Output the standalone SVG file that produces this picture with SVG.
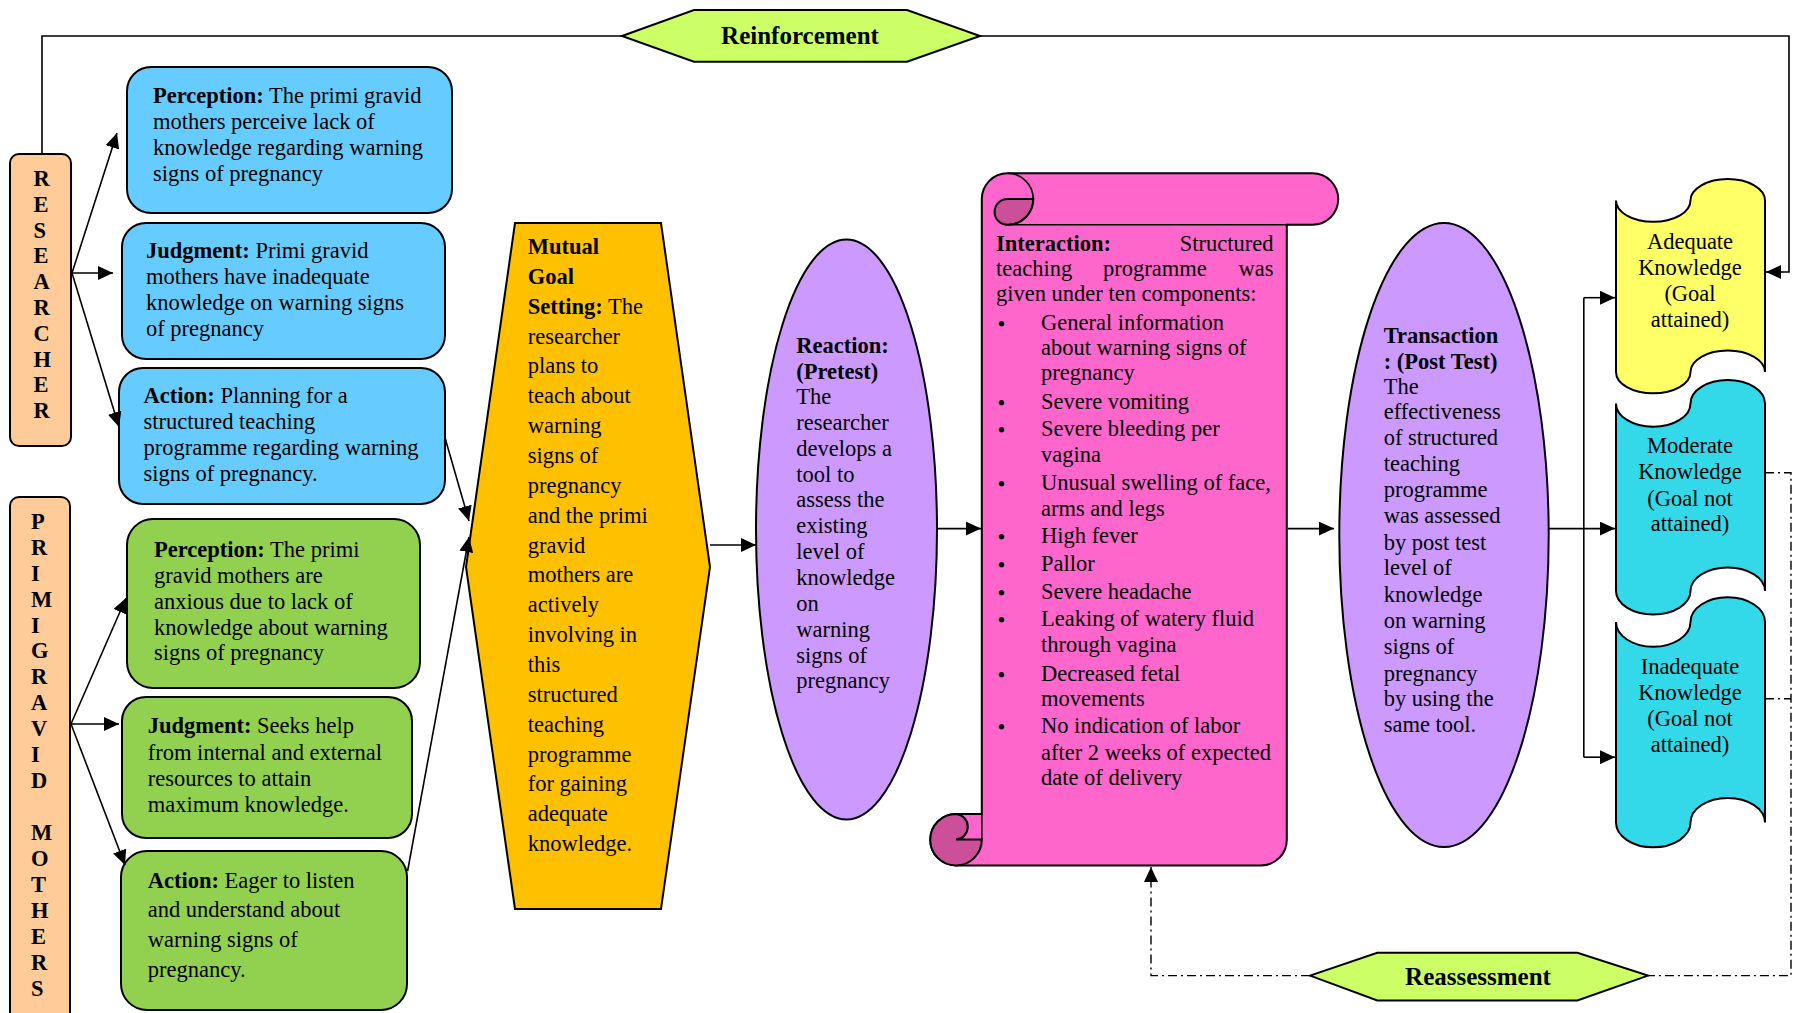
<svg xmlns="http://www.w3.org/2000/svg" width="1798" height="1013" viewBox="0 0 1798 1013">
<defs>
<marker id="ah" markerUnits="userSpaceOnUse" markerWidth="16" markerHeight="14" refX="15" refY="7" orient="auto"><path d="M0,0 L15,7 L0,14 Z" fill="#000"/></marker>
</defs>
<style>
text{font-family:"Liberation Serif","Times New Roman",serif;font-size:22.5px;fill:#000}
.b{font-weight:bold}
.lbl{font-size:22px;font-weight:bold}
.hx{font-size:25px;font-weight:bold}
.ln{fill:none;stroke:#000;stroke-width:1.6}
.dd{fill:none;stroke:#000;stroke-width:1.4;stroke-dasharray:9,4,2,4}
.sh{stroke:#000;stroke-width:2}
.c{text-anchor:middle}
.bu{font-size:28px;text-anchor:middle}
</style>
<rect width="1798" height="1013" fill="#fff"/>

<g id="researcher">
<rect x="10" y="154" width="61" height="292" rx="9" fill="#FFCC99" class="sh"/>
<g class="lbl">
<text x="33.5" y="186">R</text><text x="33.5" y="211.8">E</text><text x="33.5" y="237.6">S</text><text x="33.5" y="263.4">E</text><text x="33.5" y="289.2">A</text><text x="33.5" y="315">R</text><text x="33.5" y="340.8">C</text><text x="33.5" y="366.6">H</text><text x="33.5" y="392.4">E</text><text x="33.5" y="418.2">R</text>
</g>
</g>

<g id="primigravid">
<rect x="10" y="497" width="60" height="540" rx="9" fill="#FFCC99" class="sh"/>
<g class="lbl">
<text x="31" y="528.6">P</text><text x="31" y="554.6">R</text><text x="31" y="580.5">I</text><text x="31" y="606.5">M</text><text x="31" y="632.5">I</text><text x="31" y="658.4">G</text><text x="31" y="684.4">R</text><text x="31" y="710.4">A</text><text x="31" y="736.4">V</text><text x="31" y="762.3">I</text><text x="31" y="788.3">D</text>
<text x="31" y="840.2">M</text><text x="31" y="866.2">O</text><text x="31" y="892.2">T</text><text x="31" y="918.1">H</text><text x="31" y="944.1">E</text><text x="31" y="970.1">R</text><text x="31" y="996">S</text>
</g>
</g>

<g id="r-perception">
<rect x="127" y="67" width="325" height="146" rx="24" fill="#66CCFF" class="sh"/>
<text x="153" y="103.3"><tspan class="b">Perception:</tspan> The primi gravid</text>
<text x="153" y="129.3">mothers perceive lack of</text>
<text x="153" y="155.3">knowledge regarding warning</text>
<text x="153" y="181">signs of pregnancy</text>
</g>
<g id="r-judgment">
<rect x="122" y="223" width="323" height="136" rx="24" fill="#66CCFF" class="sh"/>
<text x="146" y="258.3"><tspan class="b">Judgment:</tspan> Primi gravid</text>
<text x="146" y="284.3">mothers have inadequate</text>
<text x="146" y="310">knowledge on warning signs</text>
<text x="146" y="336">of pregnancy</text>
</g>
<g id="r-action">
<rect x="119" y="368" width="326" height="136" rx="24" fill="#66CCFF" class="sh"/>
<text x="143.5" y="403.3"><tspan class="b">Action:</tspan> Planning for a</text>
<text x="143.5" y="429.3">structured teaching</text>
<text x="143.5" y="455">programme regarding warning</text>
<text x="143.5" y="481">signs of pregnancy.</text>
</g>

<g id="m-perception">
<rect x="127" y="519" width="293" height="169" rx="26" fill="#92D050" class="sh"/>
<text x="154" y="556.5"><tspan class="b">Perception:</tspan> The primi</text>
<text x="154" y="582.7">gravid mothers are</text>
<text x="154" y="608.6">anxious due to lack of</text>
<text x="154" y="634.8">knowledge about warning</text>
<text x="154" y="660.3">signs of pregnancy</text>
</g>
<g id="m-judgment">
<rect x="122" y="697" width="290" height="141" rx="24" fill="#92D050" class="sh"/>
<text x="147.7" y="733.4"><tspan class="b">Judgment:</tspan> Seeks help</text>
<text x="147.7" y="759.6">from internal and external</text>
<text x="147.7" y="786.1">resources to attain</text>
<text x="147.7" y="811.6">maximum knowledge.</text>
</g>
<g id="m-action">
<rect x="121" y="851" width="286" height="159" rx="26" fill="#92D050" class="sh"/>
<text x="147.7" y="887.5"><tspan class="b">Action:</tspan> Eager to listen</text>
<text x="147.7" y="917">and understand about</text>
<text x="147.7" y="947">warning signs of</text>
<text x="147.7" y="977.3">pregnancy.</text>
</g>

<g id="mutual-goal">
<polygon points="515,223 661,223 710,567 661,909 515,909 466,567" fill="#FFC000" class="sh"/>
<text x="527.7" y="254" class="b">Mutual</text>
<text x="527.7" y="283.9" class="b">Goal</text>
<text x="527.7" y="313.7"><tspan class="b">Setting:</tspan> The</text>
<text x="527.7" y="343.6">researcher</text>
<text x="527.7" y="373.4">plans to</text>
<text x="527.7" y="403.3">teach about</text>
<text x="527.7" y="433.1">warning</text>
<text x="527.7" y="463">signs of</text>
<text x="527.7" y="492.8">pregnancy</text>
<text x="527.7" y="522.7">and the primi</text>
<text x="527.7" y="552.5">gravid</text>
<text x="527.7" y="582.4">mothers are</text>
<text x="527.7" y="612.2">actively</text>
<text x="527.7" y="642.1">involving in</text>
<text x="527.7" y="671.9">this</text>
<text x="527.7" y="701.8">structured</text>
<text x="527.7" y="731.6">teaching</text>
<text x="527.7" y="761.5">programme</text>
<text x="527.7" y="791.3">for gaining</text>
<text x="527.7" y="821.2">adequate</text>
<text x="527.7" y="851">knowledge.</text>
</g>

<g id="reaction">
<ellipse cx="846.5" cy="529.5" rx="90.5" ry="290" fill="#CC99FF" class="sh"/>
<text x="796.3" y="352.7" class="b">Reaction:</text>
<text x="796.3" y="379" class="b">(Pretest)</text>
<text x="796.3" y="403.5">The</text>
<text x="796.3" y="429.8">researcher</text>
<text x="796.3" y="455.5">develops a</text>
<text x="796.3" y="481.5">tool to</text>
<text x="796.3" y="507">assess the</text>
<text x="796.3" y="532.7">existing</text>
<text x="796.3" y="559">level of</text>
<text x="796.3" y="584.8">knowledge</text>
<text x="796.3" y="611">on</text>
<text x="796.3" y="637">warning</text>
<text x="796.3" y="663">signs of</text>
<text x="796.3" y="688">pregnancy</text>
</g>

<g id="interaction">
<path d="M1007.5,173.3 L1312.5,173.3 A25.75,25.75 0 0 1 1312.5,224.8 L1286.8,224.8 L1286.8,839.6 A25.75,25.75 0 0 1 1261,865.4 L956,865.4 A25.75,25.75 0 0 1 956,813.9 L981.8,813.9 L981.8,199 A25.75,25.75 0 0 1 1007.5,173.3 Z" fill="#FF66CC" class="sh"/>
<path d="M1007.5,199 A12.9,12.9 0 0 0 1007.5,224.8 A25.75,25.75 0 0 0 1033.3,199 Z" fill="#CC5099" class="sh"/>
<path d="M1007.5,173.3 A25.75,25.75 0 0 1 1007.5,224.8 L1286.8,224.8" class="ln" stroke-width="2"/>
<path d="M956,813.9 A12.9,12.9 0 0 1 956,839.6 L981.8,839.6 A25.75,25.75 0 0 1 956,865.4 A25.75,25.75 0 0 1 956,813.9 Z" fill="#CC5099" class="sh"/>
<path d="M981.8,813.9 L981.8,839.6" class="ln" stroke-width="2"/>
<text x="996" y="250.7" class="b">Interaction:</text>
<text x="1273.5" y="250.7" text-anchor="end">Structured</text>
<text x="996" y="276">teaching</text>
<text x="1103" y="276">programme</text>
<text x="1273.5" y="276" text-anchor="end">was</text>
<text x="996" y="301">given under ten components:</text>
<g class="bu">
<text x="1001.5" y="332">•</text><text x="1001.5" y="411">•</text><text x="1001.5" y="438">•</text><text x="1001.5" y="492">•</text><text x="1001.5" y="545">•</text><text x="1001.5" y="573">•</text><text x="1001.5" y="601">•</text><text x="1001.5" y="628">•</text><text x="1001.5" y="682.7">•</text><text x="1001.5" y="735">•</text>
</g>
<text x="1041" y="330">General information</text>
<text x="1041" y="355">about warning signs of</text>
<text x="1041" y="380">pregnancy</text>
<text x="1041" y="409">Severe vomiting</text>
<text x="1041" y="436">Severe bleeding per</text>
<text x="1041" y="461.6">vagina</text>
<text x="1041" y="490">Unusual swelling of face,</text>
<text x="1041" y="515.7">arms and legs</text>
<text x="1041" y="543">High fever</text>
<text x="1041" y="571">Pallor</text>
<text x="1041" y="599">Severe headache</text>
<text x="1041" y="626">Leaking of watery fluid</text>
<text x="1041" y="652">through vagina</text>
<text x="1041" y="680.7">Decreased fetal</text>
<text x="1041" y="705.5">movements</text>
<text x="1041" y="733">No indication of labor</text>
<text x="1041" y="760">after 2 weeks of expected</text>
<text x="1041" y="785">date of delivery</text>
</g>

<g id="transaction">
<ellipse cx="1444" cy="535" rx="104.7" ry="312" fill="#CC99FF" class="sh"/>
<text x="1383.7" y="343" class="b">Transaction</text>
<text x="1383.7" y="369" class="b">: (Post Test)</text>
<text x="1383.7" y="393.5">The</text>
<text x="1383.7" y="419.3">effectiveness</text>
<text x="1383.7" y="445">of structured</text>
<text x="1383.7" y="470.7">teaching</text>
<text x="1383.7" y="496.7">programme</text>
<text x="1383.7" y="522.5">was assessed</text>
<text x="1383.7" y="549.7">by post test</text>
<text x="1383.7" y="575">level of</text>
<text x="1383.7" y="601.8">knowledge</text>
<text x="1383.7" y="628">on warning</text>
<text x="1383.7" y="653.5">signs of</text>
<text x="1383.7" y="680.7">pregnancy</text>
<text x="1383.7" y="706">by using the</text>
<text x="1383.7" y="731.7">same tool.</text>
</g>

<g id="adequate">
<path d="M1616,200.4 A37.25,21.4 0 0 0 1690.5,200.4 A37.25,21.4 0 0 1 1765,200.4 L1765,371.9 A37.25,21.4 0 0 0 1690.5,371.9 A37.25,21.4 0 0 1 1616,371.9 Z" fill="#FFFF66" class="sh"/>
<g class="c">
<text x="1690" y="249.3">Adequate</text>
<text x="1690" y="275">Knowledge</text>
<text x="1690" y="301">(Goal</text>
<text x="1690" y="326.7">attained)</text>
</g>
</g>
<g id="moderate">
<path d="M1616,403.4 A37.25,23.4 0 0 0 1690.5,403.4 A37.25,23.4 0 0 1 1765,403.4 L1765,591 A37.25,23.4 0 0 0 1690.5,591 A37.25,23.4 0 0 1 1616,591 Z" fill="#33D9E9" class="sh"/>
<g class="c">
<text x="1690" y="453.3">Moderate</text>
<text x="1690" y="479.3">Knowledge</text>
<text x="1690" y="505.5">(Goal not</text>
<text x="1690" y="531">attained)</text>
</g>
</g>
<g id="inadequate">
<path d="M1616,622 A37.25,24.7 0 0 0 1690.5,622 A37.25,24.7 0 0 1 1765,622 L1765,822.6 A37.25,24.7 0 0 0 1690.5,822.6 A37.25,24.7 0 0 1 1616,822.6 Z" fill="#33D9E9" class="sh"/>
<g class="c">
<text x="1690" y="674">Inadequate</text>
<text x="1690" y="700.4">Knowledge</text>
<text x="1690" y="725.6">(Goal not</text>
<text x="1690" y="752">attained)</text>
</g>
</g>

<g id="connectors">
<path d="M42,154 L42,36 L622,36" class="ln"/>
<path d="M980,36 L1789,36 L1789,272 L1766,272" class="ln" marker-end="url(#ah)"/>
<path d="M72,273 L117,133" class="ln" marker-end="url(#ah)"/>
<path d="M72,273 L113,273" class="ln" marker-end="url(#ah)"/>
<path d="M72,273 L119,427" class="ln" marker-end="url(#ah)"/>
<path d="M71,724 L126,598" class="ln" marker-end="url(#ah)"/>
<path d="M71,724 L119,724" class="ln" marker-end="url(#ah)"/>
<path d="M71,724 L125,865" class="ln" marker-end="url(#ah)"/>
<path d="M444.7,436.7 L469,521" class="ln" marker-end="url(#ah)"/>
<path d="M407.6,871 L469,537" class="ln" marker-end="url(#ah)"/>
<path d="M710,545 L756,545" class="ln" marker-end="url(#ah)"/>
<path d="M938,528.6 L981,528.6" class="ln" marker-end="url(#ah)"/>
<path d="M1288,528.6 L1334,528.6" class="ln" marker-end="url(#ah)"/>
<path d="M1549,528.6 L1615,528.6" class="ln" marker-end="url(#ah)"/>
<path d="M1583.8,297.7 L1583.8,757.2" class="ln"/>
<path d="M1583.8,297.7 L1615,297.7" class="ln" marker-end="url(#ah)"/>
<path d="M1583.8,757.2 L1615,757.2" class="ln" marker-end="url(#ah)"/>
<path d="M1765,472.7 L1791,472.7 L1791,975.6 L1648,975.6" class="dd"/>
<path d="M1765,698.7 L1791,698.7" class="dd"/>
<path d="M1310,975.6 L1151,975.6 L1151,867" class="dd" marker-end="url(#ah)"/>
</g>

<g id="reinforcement">
<polygon points="622,36 694,10 907,10 980,36 907,61.7 694,61.7" fill="#CCFF66" class="sh"/>
<text x="800" y="44" class="hx c">Reinforcement</text>
</g>
<g id="reassessment">
<polygon points="1310,975.6 1377.3,952.8 1577.4,952.8 1648,975.6 1577.4,1000.4 1377.3,1000.4" fill="#CCFF66" class="sh"/>
<text x="1478" y="985" class="hx c">Reassessment</text>
</g>
</svg>
